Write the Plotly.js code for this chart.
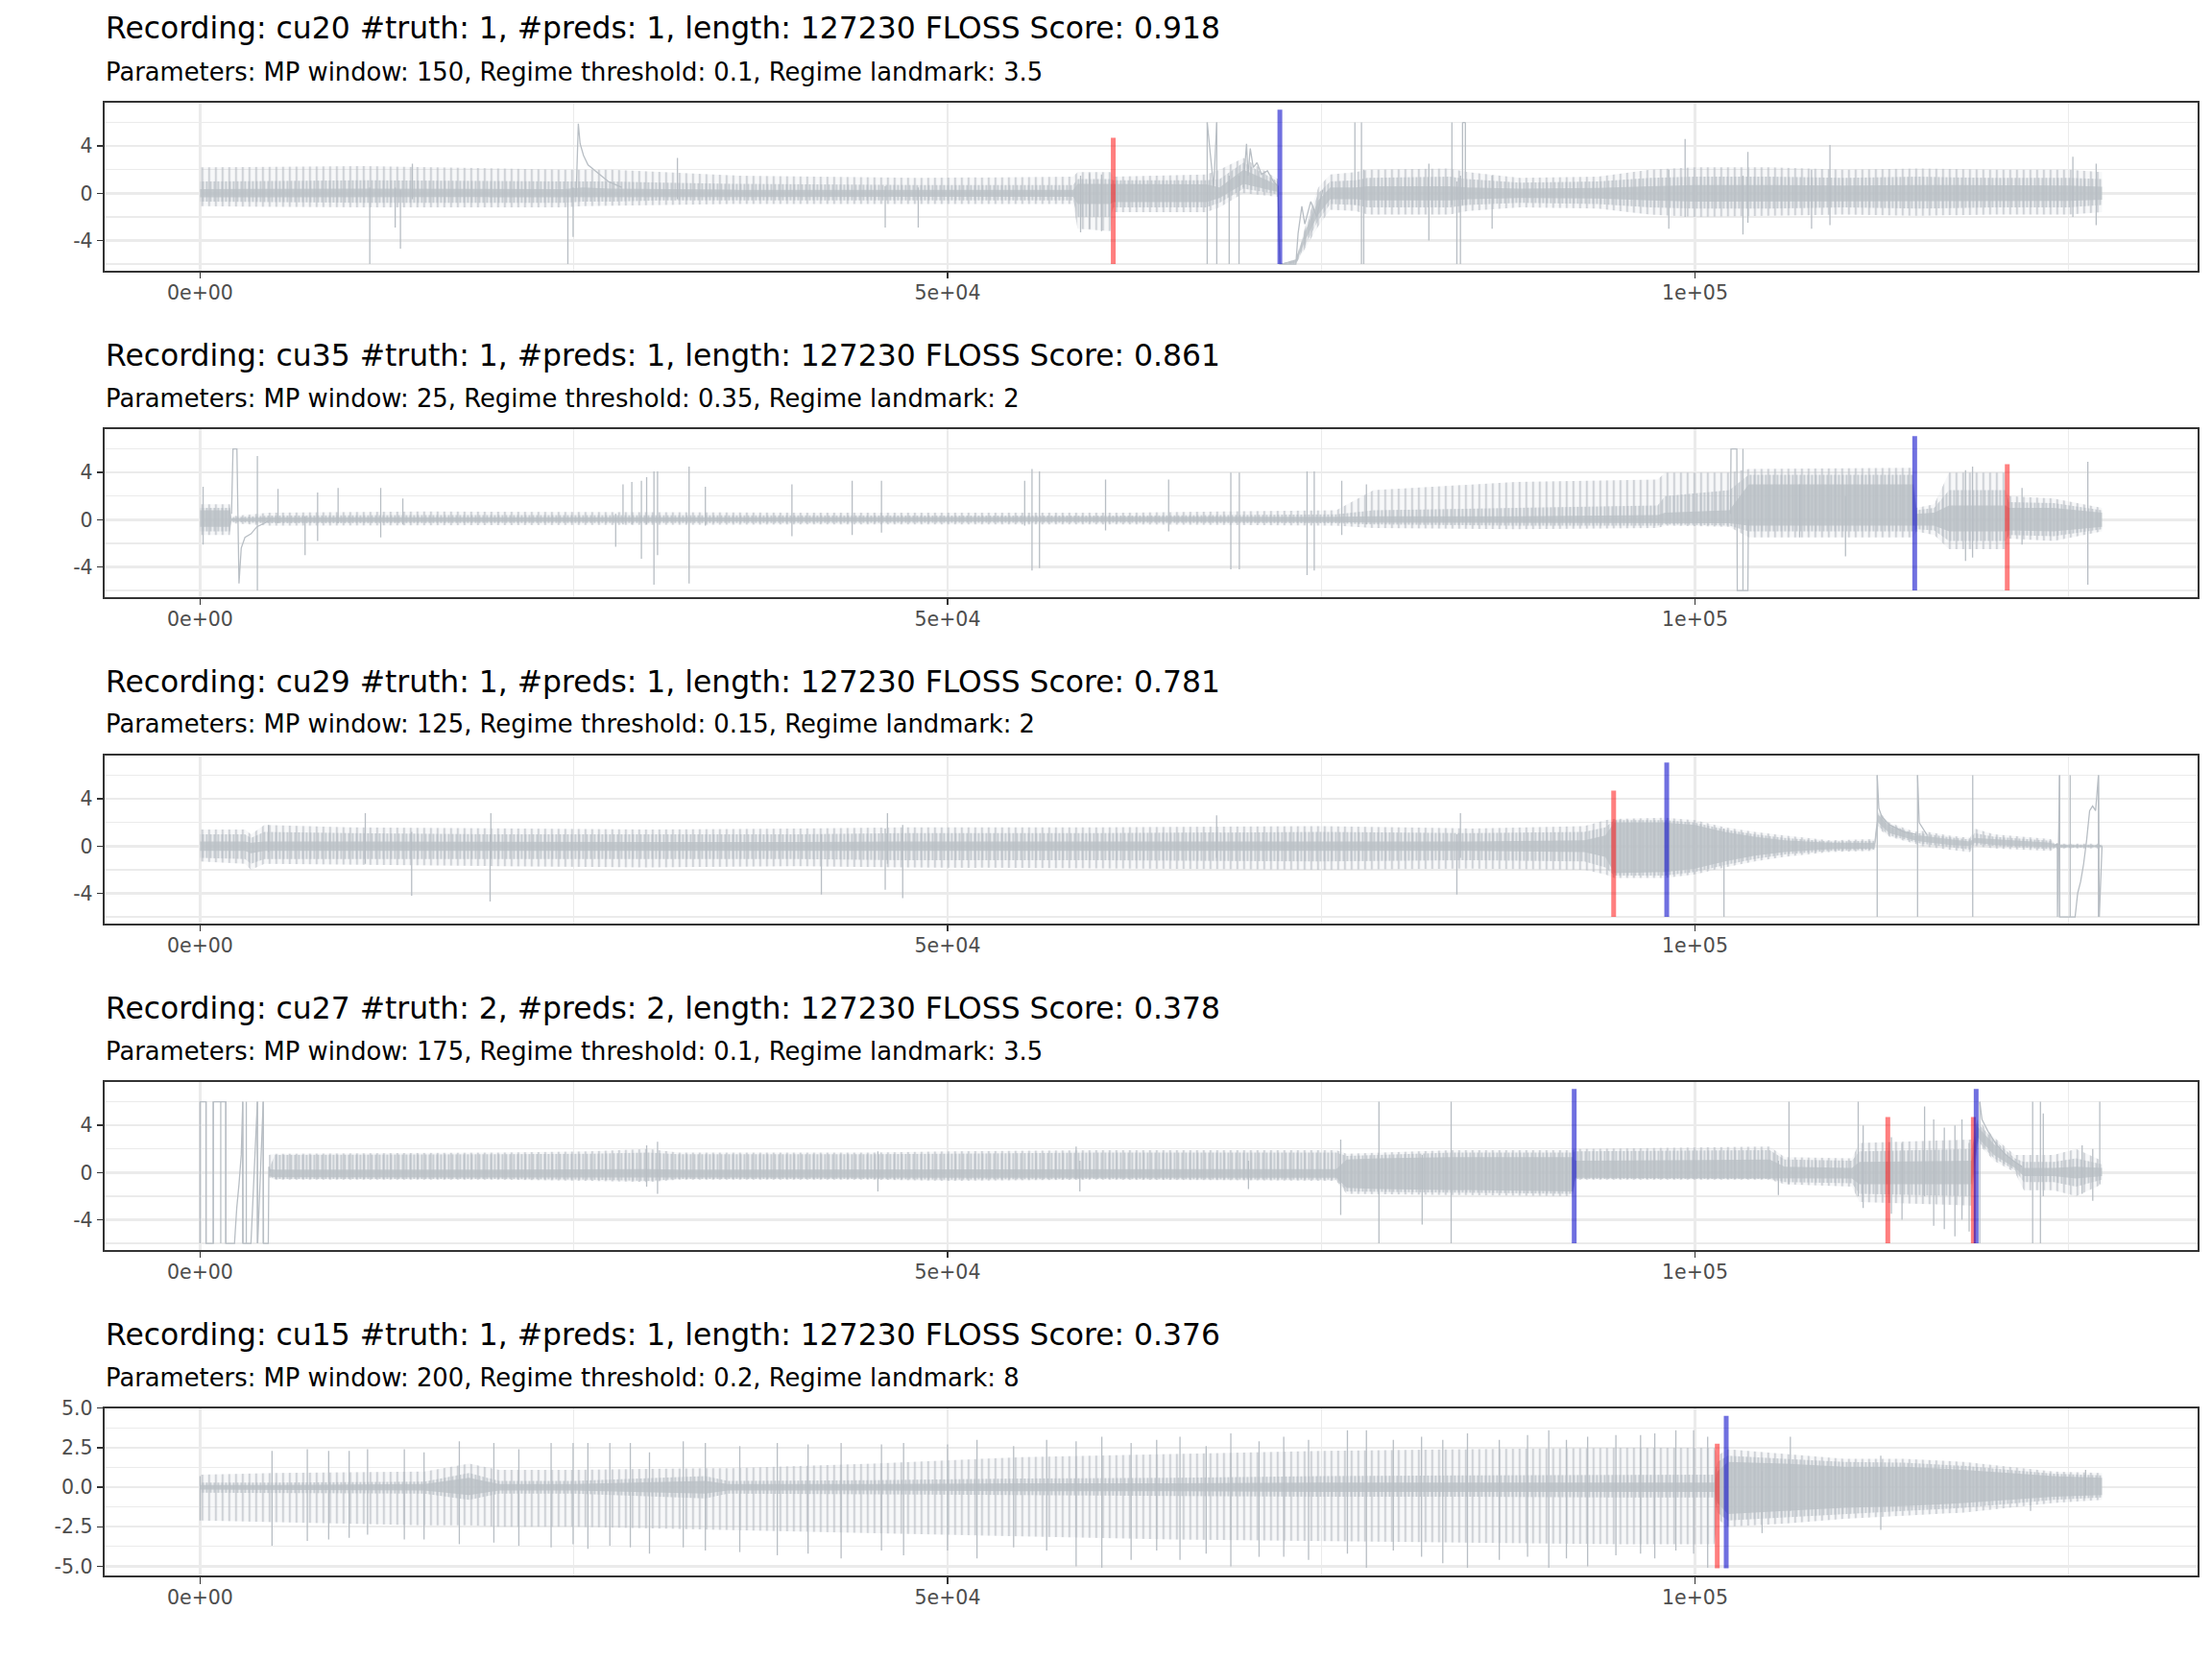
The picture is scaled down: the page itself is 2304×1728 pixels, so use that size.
<!DOCTYPE html>
<html><head><meta charset="utf-8">
<script src="https://cdn.plot.ly/plotly-3.0.1.min.js"></script>
<style>html,body{margin:0;padding:0;background:#fff}#chart{width:2304px;height:1728px}</style>
</head><body><div id="chart"></div>
<script>
// ---------- titles ----------
const recordings = ['cu20', 'cu35', 'cu29', 'cu27', 'cu15'];
const truthCounts = [1, 1, 1, 2, 1];
const predCounts = [1, 1, 1, 2, 1];
const recordingLengths = [127230, 127230, 127230, 127230, 127230];
const flossScores = ['0.918', '0.861', '0.781', '0.378', '0.376'];
const mpWindows = [150, 25, 125, 175, 200];
const regimeThresholds = ['0.1', '0.35', '0.15', '0.1', '0.2'];
const regimeLandmarks = ['3.5', '2', '2', '3.5', '8'];

// ---------- axes ----------
const xTickVals = [0, 50000, 100000];
const xTickText = ['0e+00', '5e+04', '1e+05'];
const xMinorVals = [25000, 75000, 125000];
const yTickVals = [-4, 0, 4];
const yTickText = ['-4', '0', '4'];
const yMinorVals = [-6, -2, 2, 6];
const y5TickVals = [-5, -2.5, 0, 2.5, 5];
const y5TickText = ['-5.0', '-2.5', '0.0', '2.5', '5.0'];
const y5MinorVals = [-3.75, -1.25, 1.25, 3.75];

// ---------- change points (red = truth, blue = predictions) ----------
const cu20_truth = [61085];           const cu20_preds = [72230];
const cu35_truth = [120890];          const cu35_preds = [114700];
const cu29_truth = [94560];           const cu29_preds = [98110];
const cu27_truth = [112900, 118620];  const cu27_preds = [91920, 118810];
const cu15_truth = [101490];          const cu15_preds = [102090];
const truthTop = [4.7, 4.7, 4.7, 4.7, 2.75];
const predTop = [7.08, 7.08, 7.08, 7.08, 4.52];
const markBottom = [-6, -6, -6, -6, -5.12];

// ---------- cu20 signal envelope ----------
const cu20_envX = [0, 11000, 24300, 25600, 27500, 31000, 36000, 48000, 58400, 58700, 60900, 61100, 67300, 68200, 69800, 72100, 72250, 73300, 74000, 74800, 75600, 77300, 78100, 83600, 84800, 88300, 93500, 97000, 100000, 105000, 110000, 115000, 120000, 125000, 127230];
const cu20_outerLo = [-1.1,-1.2,-1.2,-1.1,-1.1,-1.0,-0.9,-0.9,-0.9,-3.0,-3.2,-1.6,-1.6,-1.2,0.0,-0.3,-6,-6,-4.5,-2.8,-1.4,-1.5,-1.8,-1.8,-1.5,-1.2,-1.3,-1.8,-2.0,-1.9,-1.8,-1.9,-1.8,-1.8,-1.6];
const cu20_outerHi = [2.2,2.3,2.0,2.0,2.0,1.8,1.5,1.3,1.4,1.8,1.8,1.4,1.6,2.0,3.0,1.2,-6,-5.6,-2.5,0.5,1.6,1.8,2.0,2.1,1.8,1.3,1.4,2.0,2.2,2.2,2.0,2.1,2.0,2.0,1.8];
const cu20_midLo = [-0.7,-0.8,-0.8,-0.7,-0.7,-0.6,-0.6,-0.6,-0.6,-2.0,-2.0,-1.2,-1.2,-0.8,0.4,-0.1,-6,-6,-4.2,-2.3,-0.9,-1.0,-1.2,-1.2,-1.0,-0.8,-0.9,-1.2,-1.3,-1.3,-1.2,-1.3,-1.2,-1.2,-1.0];
const cu20_midHi = [1.0,1.1,1.0,1.0,1.0,0.9,0.8,0.7,0.7,1.2,1.2,1.1,1.1,1.2,2.6,1.0,-6,-5.6,-2.8,0.0,1.0,1.1,1.3,1.4,1.2,0.9,1.0,1.3,1.4,1.4,1.3,1.4,1.3,1.3,1.2];
const cu20_innerLo = [-0.35,-0.35,-0.35,-0.3,-0.35,-0.3,-0.3,-0.3,-0.3,-0.9,-0.9,-0.75,-0.75,-0.4,0.8,0.1,-6,-5.9,-3.8,-1.8,-0.5,-0.5,-0.6,-0.6,-0.5,-0.4,-0.45,-0.6,-0.7,-0.7,-0.65,-0.7,-0.65,-0.65,-0.55];
const cu20_innerHi = [0.35,0.4,0.35,0.5,0.4,0.35,0.3,0.3,0.3,0.8,0.8,0.8,0.75,0.5,2.0,0.7,-6,-5.6,-3.0,-0.6,0.5,0.5,0.6,0.6,0.5,0.4,0.45,0.6,0.7,0.7,0.65,0.7,0.65,0.65,0.55];
const cu20_spikeX = [11350, 13050, 13400, 14200, 24600, 24950, 31930, 45830, 48040, 58900, 59500, 60300, 67370, 68010, 68840, 69500, 77250, 77690, 77840, 82200, 83740, 84070, 84310, 84450, 84640, 86430, 98250, 99340, 103210, 103540, 107800, 109030, 125280, 126840];
const cu20_spikeLo = [-6.0,-2.9,-4.7,-0.5,-6.0,-3.7,-0.5,-2.9,-2.9,-3.3,-3.0,-3.2,-6.0,-6.0,-6.0,-6.0,-1.0,-6.0,-6.0,-4.0,-1.0,-6.0,-6.0,-1.0,-1.0,-3.0,-3.0,-2.0,-3.5,-2.5,-3.0,-2.7,-2.0,-2.7];
const cu20_spikeHi = [0.5,0.5,0.3,2.5,0.3,0.5,3.0,0.6,0.5,1.5,1.7,1.6,6.0,6.0,1.5,1.5,6.0,6.0,2.0,2.5,6.0,1.0,1.5,6.0,6.0,1.5,2.0,4.6,1.5,3.5,2.0,4.1,3.1,2.5];
const cu20_pathX = [25150, 25300, 25420, 25650, 25950, 26500, 27300, 28200, null, 67370, 67600, 67800, 68010, null, 69780, 70000, 70100, 70250, 70450, 70700, 71000, 71400, 71800, 72100, 72230, 73300, 73450, 73700, 73900, 74300, 74700, 75100, null, 84450, 84640];
const cu20_pathY = [-0.3, 5.9, 4.2, 3.2, 2.4, 1.8, 1.0, 0.5, null, 6.0, 3.0, 0.5, 6.0, null, 0.5, 4.2, 1.5, 3.8, 2.2, 2.6, 1.6, 1.9, 1.0, 0.6, -6.0, -6.0, -3.4, -1.1, -2.6, -0.7, -2.0, 0.3, null, 6.0, 6.0];

// ---------- cu35 signal envelope ----------
const cu35_envX = [0, 2000, 2100, 4600, 15000, 40000, 62000, 76000, 78500, 88000, 97500, 98000, 102300, 103600, 114600, 114800, 116000, 117000, 120800, 121000, 124000, 127230];
const cu35_outerLo = [-1.3,-1.3,-0.3,-0.5,-0.5,-0.4,-0.4,-0.5,-0.7,-0.8,-0.7,-0.5,-0.6,-1.5,-1.5,-1.0,-1.3,-2.5,-2.5,-1.6,-1.8,-1.0];
const cu35_outerHi = [1.3,1.3,0.3,0.6,0.7,0.6,0.6,0.8,2.5,3.2,3.4,4.0,4.0,4.3,4.4,1.0,1.3,4.0,4.0,2.0,1.8,1.0];
const cu35_midLo = [-1.0,-1.0,-0.2,-0.3,-0.3,-0.25,-0.25,-0.3,-0.4,-0.5,-0.5,-0.4,-0.5,-1.0,-1.0,-0.8,-0.9,-1.8,-1.8,-1.3,-1.4,-0.8];
const cu35_midHi = [1.0,1.0,0.2,0.35,0.4,0.35,0.35,0.45,0.8,1.0,1.2,2.0,2.5,3.8,3.8,0.8,1.0,2.5,2.5,1.5,1.4,0.8];
const cu35_innerLo = [-0.6,-0.6,-0.1,-0.2,-0.2,-0.15,-0.15,-0.2,-0.25,-0.3,-0.3,-0.3,-0.3,-0.5,-0.5,-0.5,-0.5,-1.0,-1.0,-0.9,-1.0,-0.6];
const cu35_innerHi = [0.8,0.8,0.1,0.2,0.2,0.2,0.2,0.25,0.3,0.3,0.4,0.6,0.8,3.0,3.0,0.5,0.6,1.2,1.2,1.0,1.0,0.6];
const cu35_spikeX = [200, 3830, 5210, 7020, 7860, 9230, 12080, 13560, 27800, 28290, 28880, 29520, 29870, 30360, 30600, 32710, 33800, 39590, 43620, 45580, 55160, 55650, 56150, 60570, 64790, 68950, 69520, 74050, 74530, 76370, 78020, 103210, 107000, 110070, 118100, 118570, 121880, 126280];
const cu35_spikeLo = [-2.1,-6.0,-0.3,-3.0,-1.8,-0.3,-1.5,-0.4,-2.3,-0.4,-0.4,-3.3,-0.4,-5.5,-3.0,-5.4,-0.5,-1.4,-1.3,-1.1,-0.5,-4.3,-4.1,-0.9,-1.0,-4.2,-4.2,-4.7,-4.3,-1.3,-0.4,-6.0,-1.5,-3.1,-3.5,-3.2,-2.1,-5.5];
const cu35_spikeHi = [2.8,5.4,2.6,0.3,2.3,2.7,2.7,1.8,0.5,3.0,3.2,3.3,3.6,4.1,4.1,4.5,2.8,3.0,3.3,3.3,3.3,4.3,4.1,3.4,3.4,4.0,4.0,4.1,4.1,3.3,3.0,6.0,3.0,2.0,4.2,4.5,2.7,4.9];
const cu35_pathX = [2100, 2200, 2460, 2530, 2600, 2750, 3000, 3400, 3800, 4300, 4700, null, 102380, 102410, 102800, 102830, 103540, 103570];
const cu35_pathY = [0.5, 6.0, 6.0, 0.0, -5.4, -2.4, -1.5, -1.2, -0.6, -0.3, 0.0, null, 0.5, 6.0, 6.0, -6.0, -6.0, 0.0];

// ---------- cu29 signal envelope ----------
const cu29_envX = [0, 3000, 3400, 4300, 10000, 20000, 30000, 40000, 47000, 60000, 75000, 85000, 92600, 94000, 94600, 98000, 100000, 102000, 104000, 106000, 109000, 112000, 112250, 113000, 114700, 115100, 117000, 118400, 118700, 120000, 123800, 124100, 127230];
const cu29_outerLo = [-1.3,-1.5,-2.0,-1.5,-1.6,-1.7,-1.8,-1.7,-1.8,-1.9,-2.0,-1.9,-2.0,-2.4,-2.7,-2.7,-2.4,-1.8,-1.3,-0.9,-0.5,-0.4,1.5,0.8,0.2,0.0,-0.3,-0.5,0.0,-0.2,-0.4,-0.2,-0.2];
const cu29_outerHi = [1.4,1.4,1.0,1.8,1.6,1.5,1.4,1.5,1.6,1.6,1.7,1.5,1.7,2.2,2.3,2.4,2.2,1.6,1.2,0.9,0.5,0.6,3.0,2.0,1.2,1.3,0.9,0.7,1.5,1.0,0.6,0.2,0.2];
const cu29_midLo = [-1.0,-1.1,-1.5,-1.1,-1.1,-1.1,-1.1,-1.1,-1.2,-1.2,-1.3,-1.2,-1.3,-1.8,-2.5,-2.5,-2.2,-1.6,-1.1,-0.7,-0.4,-0.3,1.7,0.9,0.35,0.2,-0.1,-0.3,0.15,0.0,-0.25,-0.15,-0.1];
const cu29_midHi = [1.0,1.0,0.7,1.2,1.1,1.0,1.0,1.0,1.1,1.1,1.2,1.1,1.2,1.6,2.2,2.2,2.0,1.4,1.0,0.7,0.4,0.45,2.85,1.85,1.05,1.1,0.75,0.55,1.1,0.8,0.45,0.15,0.1];
const cu29_innerLo = [-0.4,-0.4,-0.6,-0.4,-0.4,-0.35,-0.35,-0.35,-0.35,-0.4,-0.4,-0.4,-0.5,-0.9,-2.3,-2.2,-1.9,-1.3,-0.8,-0.5,-0.25,-0.2,2.0,1.1,0.5,0.4,0.1,0.0,0.3,0.1,-0.1,-0.1,-0.05];
const cu29_innerHi = [0.4,0.4,0.3,0.4,0.4,0.35,0.35,0.35,0.4,0.4,0.4,0.4,0.5,0.9,2.0,2.0,1.8,1.2,0.8,0.5,0.3,0.3,2.7,1.7,0.9,0.9,0.6,0.4,0.7,0.6,0.3,0.1,0.05];
const cu29_spikeX = [4570, 11050, 14150, 19400, 19450, 41560, 45830, 45980, 47000, 68000, 84070, 84310, 101940, 112190, 114890, 118580, 124390, 125100, 126990];
const cu29_spikeLo = [-0.5,-1.5,-4.2,-4.7,-1.0,-4.1,-3.7,-1.5,-4.4,-1.0,-4.1,-1.0,-6.0,-6.0,-6.0,-6.0,-6.0,-6.0,-6.0];
const cu29_spikeHi = [1.8,2.8,1.2,1.0,2.8,1.0,1.5,2.8,1.8,2.6,1.0,2.8,1.5,6.0,6.0,6.0,6.0,6.0,6.0];
const cu29_pathX = [112190, 112300, 112500, 113000, 114000, 114800, null, 114890, 115000, 115500, null, 124000, 124240, 124250, 124390, 124400, 125100, 125150, 125430, 125600, 125800, 126000, 126200, 126400, 126600, 126800, 126990, 127050, 127230];
const cu29_pathY = [6.0, 3.2, 2.5, 1.8, 1.2, 1.0, null, 6.0, 2.0, 1.0, null, 0.0, 0.2, -6.0, 6.0, -6.0, -6.0, -6.0, -6.0, -4.0, -3.0, -1.5, 0.5, 3.0, 3.4, 3.0, 6.0, -6.0, 0.0];

// ---------- cu27 signal envelope ----------
const cu27_envX = [4600, 5000, 20000, 26000, 30000, 32000, 45000, 50000, 60000, 76000, 76700, 78800, 83700, 91800, 92000, 105000, 106000, 110500, 111000, 118500, 118900, 120000, 121400, 122000, 124000, 125500, 127230];
const cu27_outerLo = [-0.4,-0.6,-0.6,-0.7,-0.8,-0.6,-0.6,-0.7,-0.6,-0.7,-1.8,-1.8,-1.9,-2.0,-0.6,-0.6,-1.0,-1.2,-2.5,-2.8,2.5,1.0,0.0,-1.5,-1.5,-2.0,-1.0];
const cu27_outerHi = [1.5,1.6,1.7,1.8,2.0,1.7,1.7,1.8,1.9,1.9,1.6,1.7,1.9,1.9,2.0,2.2,1.3,1.2,2.5,2.8,4.5,3.0,1.5,1.5,1.5,2.0,1.0];
const cu27_midLo = [-0.3,-0.55,-0.55,-0.6,-0.7,-0.55,-0.55,-0.6,-0.55,-0.6,-1.6,-1.6,-1.7,-1.8,-0.55,-0.55,-0.8,-0.9,-1.8,-2.0,2.7,1.2,0.2,-0.8,-0.8,-1.2,-0.6];
const cu27_midHi = [0.3,1.5,1.55,1.6,1.7,1.55,1.55,1.6,1.7,1.7,1.4,1.5,1.7,1.7,1.8,1.9,1.1,1.0,1.8,2.0,4.2,2.8,1.2,0.9,0.9,1.2,0.7];
const cu27_innerLo = [-0.3,-0.4,-0.4,-0.45,-0.45,-0.4,-0.4,-0.45,-0.45,-0.45,-1.3,-1.4,-1.5,-1.6,-0.45,-0.45,-0.5,-0.5,-1.0,-1.0,3.0,1.5,0.4,-0.3,-0.3,-0.5,-0.3];
const cu27_innerHi = [0.3,0.25,0.25,0.3,0.3,0.25,0.25,0.3,0.3,0.3,1.1,1.2,1.3,1.3,1.0,1.1,0.5,0.4,0.9,1.0,3.9,2.4,0.9,0.4,0.4,0.5,0.4];
const cu27_spikeX = [0, 390, 880, 1380, 1720, 2850, 3090, 3830, 4220, 29870, 30600, 45340, 58600, 58850, 70130, 76300, 78860, 81750, 83690, 105580, 106290, 110920, 111250, 113140, 113850, 115360, 115970, 116680, 117390, 117860, 118340, 119050, 122590, 123110, 123300, 125900, 126610, 127080];
const cu27_spikeLo = [-6,-6,-6,-6,-6,-6,-6,-6,-6,-1.2,-1.8,-1.6,-0.5,-1.6,-1.4,-3.6,-6,-4.4,-6,-1.9,-1.0,-2.0,-3.0,-3.5,-4.0,-2.0,-4.5,-4.8,-5.4,-4.0,-5.0,-6,-6,-6,-2.0,-1.8,-2.4,-1.0];
const cu27_spikeHi = [6,6,6,6,6,6,6,6,6,2.3,2.6,1.8,2.2,1.0,1.0,2.8,6,1.5,6,1.0,6,6,4.0,3.0,2.5,5.6,4.5,3.8,4.0,4.5,2.5,6,6,6,5.0,2.3,2.0,6];
const cu27_pathX = [0, 0, 400, 400, 880, 880, 1720, 1720, 2300, 2450, 2600, 2750, 2850, 2870, 3400, 3830, 3850, 4220, 4240, 4560, 4600, 4700, null, 119050, 119200, 119600, 120200, 120800, 121400, 121900];
const cu27_pathY = [-6, 6, 6, -6, -6, 6, 6, -6, -6, -3, -1, 1.5, 6, -6, -6, 6, -6, 6, -6, -6, 0.5, 0, null, 6, 4.5, 3.5, 2.3, 1.5, 0.9, 0.5];

// ---------- cu15 signal envelope ----------
const cu15_envX = [0, 5000, 15000, 18000, 20000, 25000, 33800, 35300, 45000, 55000, 65000, 75000, 85000, 95000, 101300, 101500, 102200, 106000, 110000, 114000, 118000, 121000, 124000, 127230];
const cu15_outerLo = [-2.1,-2.2,-2.4,-2.4,-2.5,-2.5,-2.7,-2.7,-2.9,-3.1,-3.3,-3.4,-3.5,-3.6,-3.6,-2.0,-2.5,-2.3,-2.0,-1.8,-1.6,-1.3,-1.0,-0.8];
const cu15_outerHi = [0.8,0.9,1.0,1.5,1.1,1.1,1.2,1.2,1.5,1.9,2.1,2.3,2.4,2.5,2.5,2.0,2.4,2.1,1.8,1.8,1.6,1.3,1.0,0.9];
const cu15_midLo = [-0.35,-0.35,-0.4,-0.8,-0.4,-0.4,-0.7,-0.4,-0.45,-0.5,-0.55,-0.6,-0.6,-0.65,-0.65,-1.6,-2.1,-1.9,-1.7,-1.5,-1.3,-1.05,-0.8,-0.65];
const cu15_midHi = [0.3,0.3,0.35,0.9,0.4,0.4,0.7,0.4,0.45,0.55,0.6,0.7,0.75,0.8,0.8,1.6,2.0,1.8,1.6,1.55,1.35,1.1,0.85,0.75];
const cu15_innerLo = [-0.15,-0.15,-0.2,-0.5,-0.2,-0.2,-0.4,-0.2,-0.2,-0.25,-0.25,-0.3,-0.3,-0.3,-0.3,-1.0,-1.7,-1.5,-1.3,-1.2,-1.0,-0.8,-0.6,-0.5];
const cu15_innerHi = [0.15,0.15,0.2,0.6,0.2,0.2,0.4,0.2,0.2,0.25,0.25,0.3,0.3,0.3,0.3,1.0,1.6,1.5,1.3,1.3,1.1,0.9,0.7,0.6];
const cu15_spikeX = [0, 4810, 7170, 8600, 9970, 11200, 13660, 14980, 17340, 19650, 21320, 23480, 24950, 25940, 27410, 28780, 30060, 32320, 33800, 36100, 38610, 40670, 42880, 45580, 47060, 50000, 51970, 54420, 56630, 58600, 60320, 62280, 63990, 65550, 67300, 68950, 70840, 72490, 74150, 76750, 78020, 79820, 81710, 83130, 84780, 86910, 88800, 90220, 91400, 92820, 94710, 96360, 97310, 98720, 99910, 100850, 104490, 106380, 112430, 122450, 126130];
const cu15_spikeLo = [-2.1,-3.7,-3.4,-3.3,-3.2,-3.0,-3.3,-3.3,-3.6,-3.5,-3.7,-3.8,-3.6,-3.9,-3.7,-3.8,-4.2,-3.8,-4.0,-4.1,-4.3,-4.2,-4.5,-4.0,-4.3,-4.0,-4.5,-3.8,-4.0,-5.0,-5.1,-4.6,-4.0,-4.6,-4.2,-5.0,-4.4,-4.4,-4.6,-4.2,-5.1,-4.0,-4.4,-4.8,-5.1,-4.6,-4.4,-5.1,-4.5,-5.0,-4.3,-4.2,-4.5,-4.0,-4.2,-5.1,-2.9,-1.5,-2.7,-1.5,-0.5];
const cu15_spikeHi = [0.7,2.3,2.4,2.3,2.3,2.4,2.4,2.2,2.9,2.8,2.4,2.8,2.8,2.8,2.8,2.8,2.2,2.9,2.8,2.6,2.8,2.7,2.8,2.7,2.8,2.7,3.0,2.6,3.0,2.9,3.2,2.8,3.0,3.2,2.6,3.4,2.9,3.2,3.0,3.6,3.6,3.0,3.2,3.0,3.4,3.0,3.3,3.6,3.0,3.2,3.3,3.3,3.4,3.6,3.6,3.2,1.0,3.2,2.0,0.5,1.1];
const cu15_pathX = [];
const cu15_pathY = [];

// ---------- assemble ----------
const panels = [
  {env: [cu20_envX, cu20_outerLo, cu20_outerHi, cu20_midLo, cu20_midHi, cu20_innerLo, cu20_innerHi], spk: [cu20_spikeX, cu20_spikeLo, cu20_spikeHi], path: [cu20_pathX, cu20_pathY], truth: cu20_truth, preds: cu20_preds},
  {env: [cu35_envX, cu35_outerLo, cu35_outerHi, cu35_midLo, cu35_midHi, cu35_innerLo, cu35_innerHi], spk: [cu35_spikeX, cu35_spikeLo, cu35_spikeHi], path: [cu35_pathX, cu35_pathY], truth: cu35_truth, preds: cu35_preds},
  {env: [cu29_envX, cu29_outerLo, cu29_outerHi, cu29_midLo, cu29_midHi, cu29_innerLo, cu29_innerHi], spk: [cu29_spikeX, cu29_spikeLo, cu29_spikeHi], path: [cu29_pathX, cu29_pathY], truth: cu29_truth, preds: cu29_preds},
  {env: [cu27_envX, cu27_outerLo, cu27_outerHi, cu27_midLo, cu27_midHi, cu27_innerLo, cu27_innerHi], spk: [cu27_spikeX, cu27_spikeLo, cu27_spikeHi], path: [cu27_pathX, cu27_pathY], truth: cu27_truth, preds: cu27_preds},
  {env: [cu15_envX, cu15_outerLo, cu15_outerHi, cu15_midLo, cu15_midHi, cu15_innerLo, cu15_innerHi], spk: [cu15_spikeX, cu15_spikeLo, cu15_spikeHi], path: [cu15_pathX, cu15_pathY], truth: cu15_truth, preds: cu15_preds}
];

const W = 2304, H = 1728;
const plotLeft = 109.4, plotRight = 2288.5;
const panelTops = [107.3, 447.3, 787.3, 1127.3, 1466.7];
const panelHeight = 174.4;
const FONT = 'DejaVu Sans';
const SIG = 'rgb(184,190,196)';

function band(x, lo, hi) {
  return {x: x.concat(x.slice().reverse()), y: hi.concat(lo.slice().reverse())};
}
function segs(xs, lo, hi) {
  const X = [], Y = [];
  for (let i = 0; i < xs.length; i++) { X.push(xs[i], xs[i], null); Y.push(lo[i], hi[i], null); }
  return {x: X, y: Y};
}

const traces = [];
const layout = {
  width: W, height: H, autosize: false,
  margin: {l: 0, r: 0, t: 0, b: 0, pad: 0},
  paper_bgcolor: '#ffffff', plot_bgcolor: '#ffffff',
  showlegend: false, annotations: []
};

panels.forEach((p, i) => {
  const sfx = i === 0 ? '' : String(i + 1);
  const xa = 'x' + sfx, ya = 'y' + sfx;
  const [ex, oLo, oHi, mLo, mHi, iLo, iHi] = p.env;
  const fills = [
    [oLo, oHi, 'rgba(184,190,196,0.10)', {shape: '|', size: 7, solidity: 0.22, fgcolor: SIG, fgopacity: 0.9, bgcolor: 'rgba(184,190,196,0.10)', fillmode: 'replace'}],
    [mLo, mHi, 'rgba(184,190,196,0.16)', {shape: '|', size: 4, solidity: 0.4, fgcolor: SIG, fgopacity: 0.85, bgcolor: 'rgba(184,190,196,0.16)', fillmode: 'replace'}],
    [iLo, iHi, 'rgba(186,192,197,0.8)', null]
  ];
  fills.forEach(f => {
    const b = band(ex, f[0], f[1]);
    const t = {type: 'scatter', mode: 'lines', x: b.x, y: b.y, xaxis: xa, yaxis: ya,
      fill: 'toself', fillcolor: f[2], line: {width: 0, color: 'rgba(0,0,0,0)'}, hoverinfo: 'skip'};
    if (f[3]) t.fillpattern = f[3];
    traces.push(t);
  });
  const s = segs(p.spk[0], p.spk[1], p.spk[2]);
  traces.push({type: 'scatter', mode: 'lines', x: s.x, y: s.y, xaxis: xa, yaxis: ya,
    line: {color: SIG, width: 1.3}, hoverinfo: 'skip', connectgaps: false});
  if (p.path[0].length) {
    traces.push({type: 'scatter', mode: 'lines', x: p.path[0], y: p.path[1], xaxis: xa, yaxis: ya,
      line: {color: SIG, width: 1.3}, hoverinfo: 'skip', connectgaps: false});
  }
  const tr = segs(p.truth, p.truth.map(() => markBottom[i]), p.truth.map(() => truthTop[i]));
  traces.push({type: 'scatter', mode: 'lines', x: tr.x, y: tr.y, xaxis: xa, yaxis: ya,
    line: {color: 'rgba(255,0,0,0.5)', width: 5}, hoverinfo: 'skip'});
  const pr = segs(p.preds, p.preds.map(() => markBottom[i]), p.preds.map(() => predTop[i]));
  traces.push({type: 'scatter', mode: 'lines', x: pr.x, y: pr.y, xaxis: xa, yaxis: ya,
    line: {color: 'rgba(0,0,200,0.56)', width: 5}, hoverinfo: 'skip'});

  const top = panelTops[i];
  const last = i === 4;
  layout['xaxis' + sfx] = {
    domain: [plotLeft / W, plotRight / W], anchor: ya,
    range: [-6361.5, 133591.5], tickmode: 'array', tickvals: xTickVals, ticktext: xTickText,
    ticks: 'outside', ticklen: 6.5, tickwidth: 1.5, tickcolor: '#333333', ticklabelstandoff: -3,
    tickfont: {family: FONT, size: 20.5, color: '#4D4D4D'},
    showgrid: true, gridcolor: '#EBEBEB', gridwidth: 2.4, zeroline: false,
    showline: true, mirror: true, linecolor: '#333333', linewidth: 2.2,
    minor: {tickmode: 'array', tickvals: xMinorVals, showgrid: true, gridcolor: '#EBEBEB', gridwidth: 1.2, ticks: ''},
    fixedrange: true
  };
  layout['yaxis' + sfx] = {
    domain: [1 - (top + panelHeight) / H, 1 - top / H], anchor: xa,
    range: last ? [-5.585, 5.002] : [-6.54, 7.65], tickmode: 'array',
    tickvals: last ? y5TickVals : yTickVals, ticktext: last ? y5TickText : yTickText,
    ticks: 'outside', ticklen: 6.5, tickwidth: 1.5, tickcolor: '#333333',
    tickfont: {family: FONT, size: 20.5, color: '#4D4D4D'},
    showgrid: true, gridcolor: '#EBEBEB', gridwidth: 2.4, zeroline: false,
    showline: true, mirror: true, linecolor: '#333333', linewidth: 2.2,
    minor: {tickmode: 'array', tickvals: last ? y5MinorVals : yMinorVals, showgrid: true, gridcolor: '#EBEBEB', gridwidth: 1.2, ticks: ''},
    fixedrange: true
  };
  const off = 340 * i;
  layout.annotations.push({
    xref: 'paper', yref: 'paper', x: 110 / W, y: 1 - (11.5 + off) / H, xanchor: 'left', yanchor: 'top',
    showarrow: false, borderpad: 0, borderwidth: 0,
    text: 'Recording: ' + recordings[i] + ' #truth: ' + truthCounts[i] + ', #preds: ' + predCounts[i] +
          ', length: ' + recordingLengths[i] + ' FLOSS Score: ' + flossScores[i],
    font: {family: FONT, size: 31.4, color: '#000000'}
  });
  layout.annotations.push({
    xref: 'paper', yref: 'paper', x: 110 / W, y: 1 - (59.5 + off) / H, xanchor: 'left', yanchor: 'top',
    showarrow: false, borderpad: 0, borderwidth: 0,
    text: 'Parameters: MP window: ' + mpWindows[i] + ', Regime threshold: ' + regimeThresholds[i] +
          ', Regime landmark: ' + regimeLandmarks[i],
    font: {family: FONT, size: 25.8, color: '#000000'}
  });
});

Plotly.newPlot('chart', traces, layout, {displayModeBar: false, staticPlot: true});
</script>
</body></html>
